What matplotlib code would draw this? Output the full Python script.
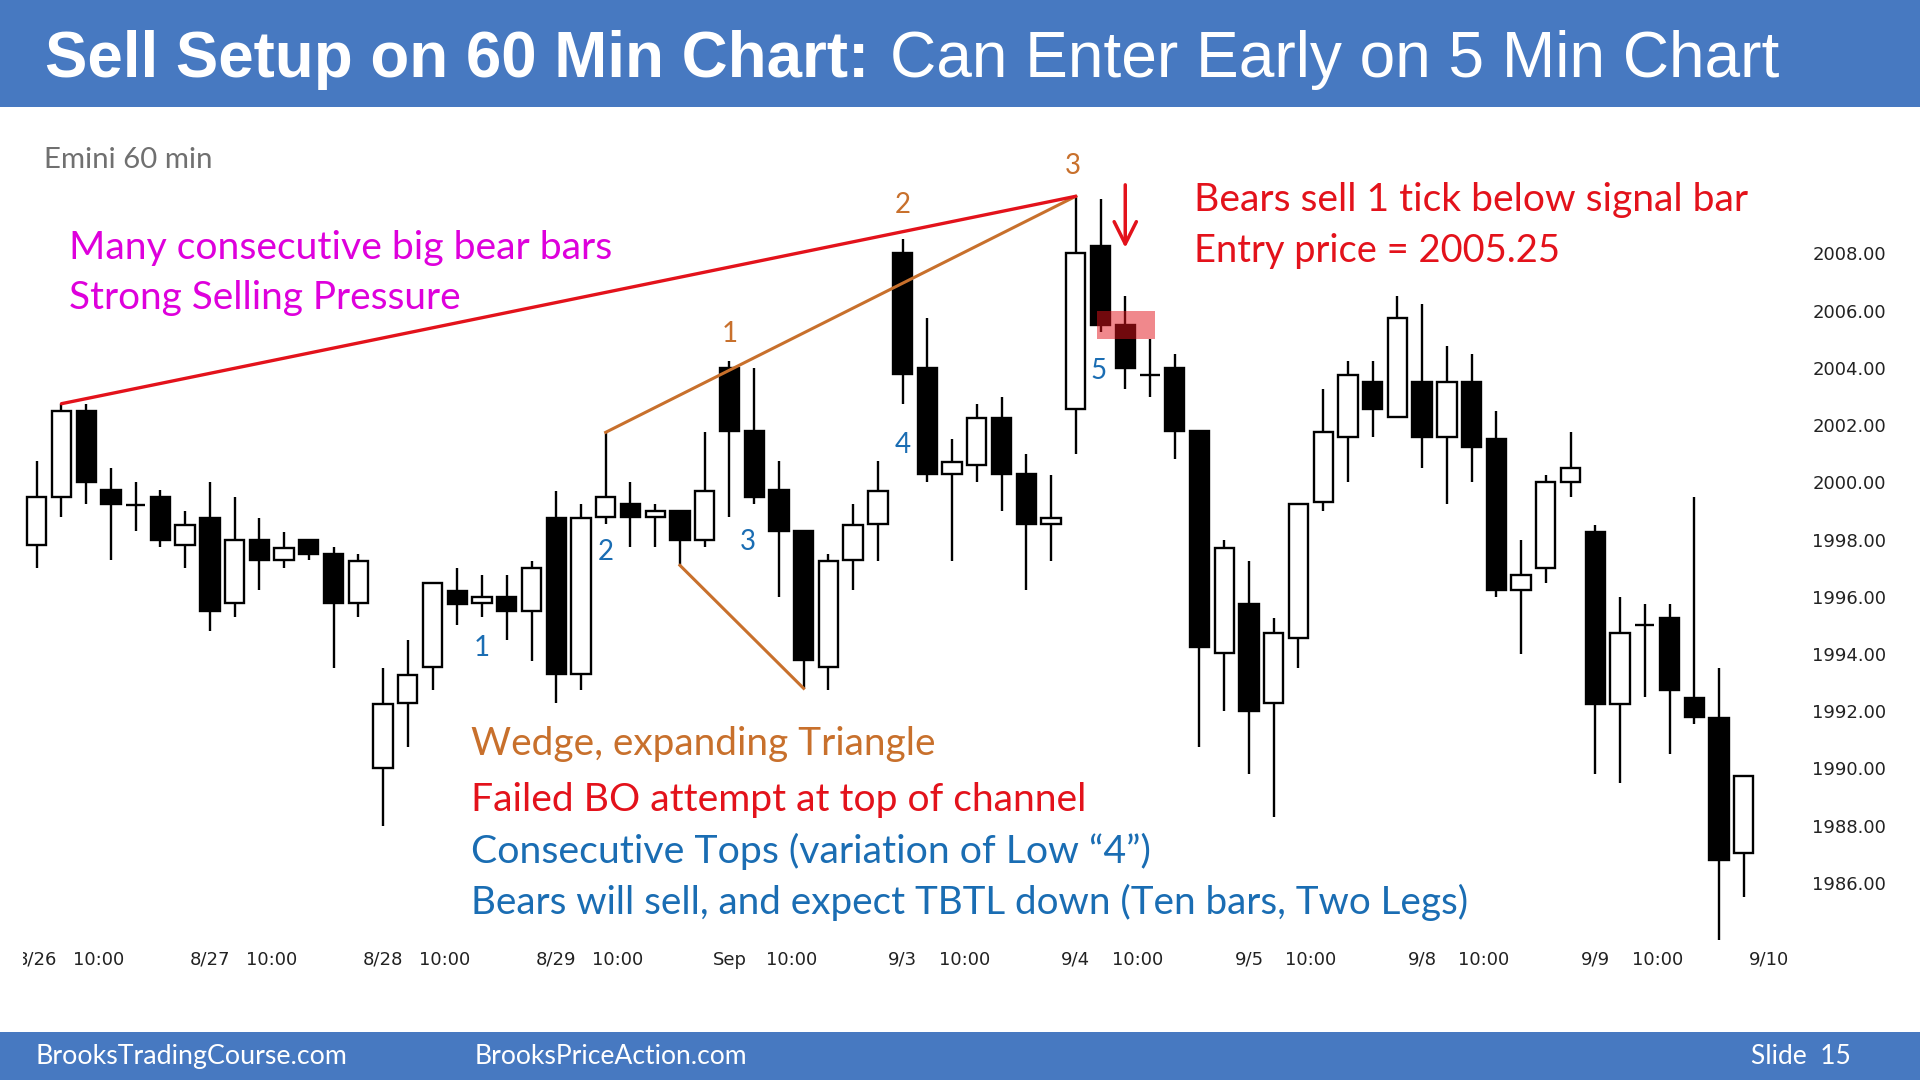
import numpy as np
import matplotlib
matplotlib.use("Agg")
import matplotlib.pyplot as plt
from matplotlib.patches import Rectangle
from matplotlib.transforms import Bbox, TransformedBbox

# Emini 60 min bars, 8/26 .. 9/9 (7 bars per day)
opens = [1997.8, 1999.5, 2002.5, 1999.75, 1999.2, 1999.5, 1997.8,
         1998.75, 1995.8, 1998.0, 1997.3, 1998.0, 1997.5, 1995.8,
         1990.0, 1992.3, 1993.55, 1996.2, 1995.8, 1996.0, 1995.5,
         1998.75, 1993.3, 1998.8, 1999.25, 1998.8, 1999.0, 1998.0,
         2004.0, 2001.8, 1999.75, 1998.3, 1993.55, 1997.3, 1998.55,
         2008.0, 2004.0, 2000.3, 2000.6, 2002.25, 2000.3, 1998.55,
         2002.55, 2008.25, 2005.5, 2003.75, 2004.0, 2001.8, 1994.05,
         1995.75, 1992.3, 1994.55, 1999.3, 2001.6, 2003.5, 2002.3,
         2003.5, 2001.6, 2003.5, 2001.5, 1996.25, 1997.0, 2000.0,
         1998.25, 1992.25, 1995.0, 1995.25, 1992.45, 1991.75, 1987.05]
highs = [2000.75, 2002.75, 2002.75, 2000.5, 2000.0, 1999.75, 1999.0,
         2000.0, 1999.5, 1998.75, 1998.25, 1998.0, 1997.75, 1997.5,
         1993.5, 1994.5, 1996.5, 1997.0, 1996.75, 1996.75, 1997.25,
         1999.7, 1999.25, 2001.75, 2000.0, 1999.25, 1999.0, 2001.75,
         2004.25, 2004.0, 2000.75, 1998.3, 1997.5, 1999.25, 2000.75,
         2008.5, 2005.75, 2001.5, 2002.75, 2003.0, 2001.0, 2000.25,
         2010.0, 2009.9, 2006.5, 2005.0, 2004.5, 2001.8, 1998.0,
         1997.25, 1995.25, 1999.25, 2003.25, 2004.25, 2004.25, 2006.5,
         2006.25, 2004.75, 2004.5, 2002.5, 1998.0, 2000.25, 2001.75,
         1998.5, 1996.0, 1995.75, 1995.75, 1999.5, 1993.5, 1989.75]
lows = [1997.0, 1998.8, 1999.25, 1997.3, 1998.3, 1997.75, 1997.0,
        1994.8, 1995.3, 1996.25, 1997.0, 1997.3, 1993.5, 1995.3,
        1988.0, 1990.75, 1992.75, 1995.0, 1995.3, 1994.5, 1993.75,
        1992.3, 1992.75, 1998.55, 1997.75, 1997.75, 1997.1, 1997.75,
        1998.8, 1999.25, 1996.0, 1992.8, 1992.75, 1996.25, 1997.25,
        2002.75, 2000.0, 1997.25, 2000.0, 1999.0, 1996.25, 1997.25,
        2001.0, 2005.25, 2003.25, 2003.0, 2000.8, 1990.75, 1992.0,
        1989.8, 1988.3, 1993.5, 1999.0, 2000.0, 2001.6, 2002.3,
        2000.5, 1999.25, 2000.0, 1996.0, 1994.0, 1996.5, 1999.5,
        1989.8, 1989.5, 1992.5, 1990.5, 1991.55, 1984.0, 1985.5]
closes = [1999.5, 2002.5, 2000.0, 1999.25, 1999.2, 1998.0, 1998.5,
          1995.5, 1998.0, 1997.3, 1997.7, 1997.5, 1995.8, 1997.25,
          1992.25, 1993.25, 1996.5, 1995.75, 1996.0, 1995.5, 1997.0,
          1993.3, 1998.75, 1999.5, 1998.8, 1999.0, 1998.0, 1999.7,
          2001.8, 1999.5, 1998.3, 1993.8, 1997.25, 1998.5, 1999.7,
          2003.8, 2000.3, 2000.7, 2002.25, 2000.3, 1998.55, 1998.75,
          2008.0, 2005.5, 2004.0, 2003.75, 2001.8, 1994.25, 1997.7,
          1992.0, 1994.75, 1999.25, 2001.75, 2003.75, 2002.55, 2005.75,
          2001.6, 2003.5, 2001.25, 1996.25, 1996.75, 2000.0, 2000.5,
          1992.25, 1994.75, 1995.0, 1992.75, 1991.8, 1986.8, 1989.75]

day_labels = ["8/26", "8/27", "8/28", "8/29", "Sep", "9/3", "9/4", "9/5", "9/8", "9/9", "9/10"]
bars_per_day = 7
price_ticks = np.arange(1986, 2009, 2)

# annotations
wedge_nums = [("1", 28, 2005.2), ("2", 35, 2009.7), ("3", 41.9, 2011.05)]
count_nums = [("1", 18, 1994.2), ("2", 23, 1997.55), ("3", 28.75, 1997.9),
              ("4", 35, 2001.3), ("5", 42.9, 2003.9)]
entry_zone = (42.85, 45.2, 2005.0, 2006.0)   # bar from, bar to, price low, price high
sell_arrow = (44, 2010.4, 2008.2)

RED = "#E3121B"
ORANGE = "#C8702C"
BLUE = "#1A6DB3"
MAGENTA = "#DE00DC"
BAND = "#4779C1"

W, H = 1920, 1080
fig = plt.figure(figsize=(W / 100, H / 100), dpi=100, facecolor="white")

# slide bands
fig.patches.append(Rectangle((0, 1 - 107 / H), 1, 107 / H, transform=fig.transFigure,
                             facecolor=BAND, edgecolor="none", zorder=0))
fig.patches.append(Rectangle((0, 0), 1, 48 / H, transform=fig.transFigure,
                             facecolor=BAND, edgecolor="none", zorder=0))

# chart axes (pixel layout of the slide)
X0, DX = 36.7, 24.74          # pixel x of bar 0, pixels per bar
Y2008, DY = 253.5, 28.61      # pixel y of 2008.00, pixels per point
L, R, T, B = 20, 1775, 140, 945
ax = fig.add_axes([L / W, 1 - B / H, (R - L) / W, (B - T) / H])
ax.set_xlim((L - X0) / DX, (R - X0) / DX)
ax.set_ylim(2008 - (B - Y2008) / DY, 2008 + (Y2008 - T) / DY)
ax.set_facecolor("none")
for s in ax.spines.values():
    s.set_visible(False)

n = len(opens)
x = np.arange(n)
ax.vlines(x, lows, highs, color="black", lw=1.7, zorder=2)
bw = 0.78
for i in range(n):
    o, c = opens[i], closes[i]
    ax.add_patch(Rectangle((i - bw / 2, min(o, c)), bw, abs(c - o),
                           facecolor="black" if c < o else "white",
                           edgecolor="black", lw=1.7, zorder=3))

# trend lines
ax.plot([1, 42], [highs[1], highs[42]], color=RED, lw=2.4, zorder=5, solid_capstyle="round")
ax.plot([23, 42], [highs[23], highs[42]], color=ORANGE, lw=2.2, zorder=4)
ax.plot([26, 31], [lows[26], lows[31]], color=ORANGE, lw=2.2, zorder=4)

# entry zone and arrow
b0, b1, p0, p1 = entry_zone
ax.add_patch(Rectangle((b0, p0), b1 - b0, p1 - p0, facecolor=RED, alpha=0.5,
                       edgecolor="none", zorder=6))
ax.annotate("", xy=(sell_arrow[0], sell_arrow[2]), xytext=(sell_arrow[0], sell_arrow[1]),
            arrowprops=dict(arrowstyle="->,head_length=0.8,head_width=0.4", color=RED,
                            lw=2.5, mutation_scale=20, shrinkA=0, shrinkB=0), zorder=7)

for lab, bx, py in wedge_nums:
    ax.text(bx, py, lab, color=ORANGE, fontsize=20, family=["Lato", "DejaVu Sans"],
            ha="center", va="center", zorder=8)
for lab, bx, py in count_nums:
    ax.text(bx, py, lab, color=BLUE, fontsize=20, family=["Lato", "DejaVu Sans"],
            ha="center", va="center", zorder=8)

# axes ticks
xt, xl = [], []
for d, lab in enumerate(day_labels):
    xt.append(d * bars_per_day)
    xl.append(lab)
    if d < len(day_labels) - 1:
        xt.append(d * bars_per_day + 2.5)
        xl.append("10:00")
ax.set_xticks(xt, xl)
ax.set_yticks(price_ticks, [f"{p:.2f}" for p in price_ticks])
ax.yaxis.tick_right()
ax.tick_params(axis="x", length=0, pad=4, labelsize=13, labelcolor="#222222")
ax.tick_params(axis="y", length=0, pad=27, labelsize=13, labelcolor="#222222")
clip = TransformedBbox(Bbox([[23 / W, 0], [1, 1]]), fig.transFigure)
for t in ax.get_xticklabels():
    t.set_clip_box(clip)
    t.set_clip_on(True)

# slide texts, sized to the widths on the slide
fig.canvas.draw()
renderer = fig.canvas.get_renderer()


def put(px, py, s, width, color, family=("Lato", "DejaVu Sans"), weight="normal", va="center"):
    t = fig.text(px / W, 1 - py / H, s, color=color, family=list(family), weight=weight,
                 fontsize=20, ha="left", va=va)
    w = t.get_window_extent(renderer).width
    t.set_fontsize(20 * width / w)
    return t


title_font = ("Liberation Sans", "DejaVu Sans")
put(45, 77, "Sell Setup on 60 Min Chart:", 824, "white", title_font, "bold", "baseline")
put(890, 77, "Can Enter Early on 5 Min Chart", 888, "white", title_font, "normal", "baseline")

dy = 2.5
put(44, 158 + dy, "Emini 60 min", 169, "#707070")
put(68.6, 246 + dy, "Many consecutive big bear bars", 545, MAGENTA)
put(68.6, 296 + dy, "Strong Selling Pressure", 392, MAGENTA)
put(1194, 198 + dy, "Bears sell 1 tick below signal bar", 555, RED)
put(1194, 248.6 + dy, "Entry price = 2005.25", 367, RED)
put(471.4, 741 + dy, "Wedge, expanding Triangle", 465, ORANGE)
put(471.4, 798 + dy, "Failed BO attempt at top of channel", 615, RED)
put(471.4, 848.6 + dy, "Consecutive Tops (variation of Low \u201c4\u201d)", 680, BLUE)
put(471.4, 900 + dy, "Bears will sell, and expect TBTL down (Ten bars, Two Legs)", 997, BLUE)

put(35.5, 1054 + dy, "BrooksTradingCourse.com", 311, "white")
put(475, 1054 + dy, "BrooksPriceAction.com", 273, "white")
put(1751, 1054 + dy, "Slide  15", 100, "white")

fig.savefig("out.png", dpi=100, facecolor="white")
